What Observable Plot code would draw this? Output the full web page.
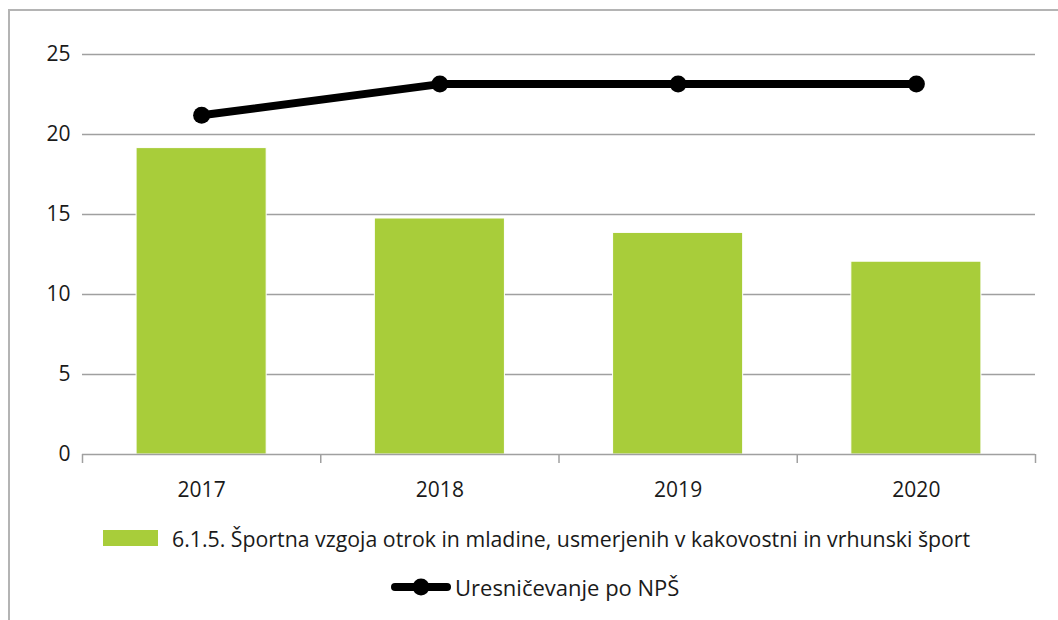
<!DOCTYPE html>
<html>
<head>
<meta charset="utf-8">
<script src="https://cdn.jsdelivr.net/npm/d3@7"></script>
<script src="https://cdn.jsdelivr.net/npm/@observablehq/plot@0.6"></script>
<style>
  html, body { margin: 0; padding: 0; background: #fff; }
  #wrap { position: relative; width: 1058px; height: 620px; overflow: hidden; font-family: "Open Sans", sans-serif; color: #1a1a1a; }
  #frame { position: absolute; left: 8px; top: 9px; width: 1100px; height: 700px; border-left: 2px solid #b4b4b4; border-top: 2px solid #b4b4b4; }
  #chart { position: absolute; left: 0; top: 0; }
  .leg { position: absolute; display: flex; align-items: center; font-size: 21.3px; white-space: nowrap; height: 30px; }
  .sw { width: 55px; height: 16px; background: #a8cd3a; margin-right: 14px; }
</style>
</head>
<body>
<div id="wrap">
  <div id="frame"></div>
  <div id="chart"></div>
  <div class="leg" id="leg1" style="left:103px; top:523px;"><span class="sw"></span><span id="t1"></span></div>
  <div class="leg" id="leg2" style="left:390px; top:572px; font-size:22px;"><svg width="62" height="28" style="margin-right:3px"><line x1="5" y1="14" x2="57" y2="14" stroke="#000" stroke-width="8" stroke-linecap="round"/><circle cx="31" cy="14" r="8.5" fill="#000"/></svg><span id="t2"></span></div>
</div>
<script>
const years = [2017, 2018, 2019, 2020];
const barValues = [19.15, 14.75, 13.85, 12.05];
const lineValues = [21.2, 23.15, 23.15, 23.15];
const yTicks = [0, 5, 10, 15, 20, 25];
const barSeriesName = "6.1.5. Športna vzgoja otrok in mladine, usmerjenih v kakovostni in vrhunski šport";
const lineSeriesName = "Uresničevanje po NPŠ";

const bars = years.map((year, i) => ({year, value: barValues[i]}));
const line = years.map((year, i) => ({year, value: lineValues[i]}));
const bounds = [years[0] - 0.5, ...years.map(y => y + 0.5)];
const half = 0.273;

const plot = Plot.plot({
  width: 1058,
  height: 515,
  marginTop: 54,
  marginBottom: 61,
  marginLeft: 82,
  marginRight: 23,
  style: {fontFamily: "Open Sans, sans-serif", fontSize: "21px", color: "#1a1a1a", background: "transparent"},
  x: {domain: [years[0] - 0.5, years[years.length - 1] + 0.5]},
  y: {domain: [0, 25]},
  marks: [
    Plot.gridY(yTicks.slice(1), {stroke: "#a0a0a0", strokeOpacity: 1, strokeWidth: 1.3}),
    Plot.rectY(bars, {x1: d => d.year - half, x2: d => d.year + half, y: "value", fill: "#a8cd3a", stroke: "#fff", strokeWidth: 1}),
    Plot.ruleY([0], {stroke: "#a0a0a0", strokeWidth: 1.5}),
    Plot.axisX(bounds, {tickSize: 9, tickFormat: () => "", stroke: "#a0a0a0", strokeWidth: 1.5, label: null}),
    Plot.axisX(years, {tickSize: 0, tickPadding: 28, tickFormat: "d", fontSize: 21, label: null}),
    Plot.axisY(yTicks, {tickSize: 0, tickPadding: 12, fontSize: 21, label: null}),
    Plot.line(line, {x: "year", y: "value", stroke: "#000", strokeWidth: 8}),
    Plot.dot(line, {x: "year", y: "value", r: 8.5, fill: "#000"})
  ]
});
document.getElementById("chart").appendChild(plot);
document.getElementById("t1").textContent = barSeriesName;
document.getElementById("t2").textContent = lineSeriesName;
</script>
</body>
</html>
